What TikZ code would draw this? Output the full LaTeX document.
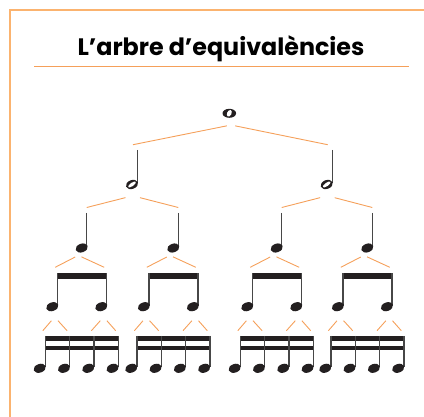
\documentclass[tikz,border=0pt]{standalone}
\usepackage{fontspec}
\setmainfont{Poppins}
\definecolor{frameorange}{HTML}{FBB36F}
\definecolor{branchorange}{HTML}{F5A05A}
\definecolor{noteblack}{HTML}{231F20}

\begin{document}
\begin{tikzpicture}[x=1pt,y=-1pt,
    branch/.style={branchorange,line width=0.9pt},
    stem/.style={black!72,line width=1.5pt},
    beam/.style={fill=noteblack}]
\useasboundingbox (0,0) rectangle (424,417);

% frame and title
\draw[frameorange,line width=2pt] (10,417) -- (10,10) -- (424,10);
\node[font=\bfseries\fontsize{23.8}{25}\selectfont,anchor=base,inner sep=0pt] (title) at (221,55.5) {L’arbre d’equivalències};
\draw[branchorange,line width=1.3pt] (34,66.7) -- (409.3,66.7);

% whole note
\coordinate (w) at (229.3,113.3);
\coordinate (w-foot) at (231,125);
\fill[noteblack] (w) ellipse [x radius=6.8pt,y radius=4.5pt];
\fill[white,rotate around={-25:(w)}] (w) ellipse [x radius=2.2pt,y radius=3.5pt];

% half notes
\foreach \h [count=\i] in {132,326.7} {
  \coordinate (h\i) at (\h,184.5);
  \coordinate (h\i-top) at (\h+1,144.7);
  \coordinate (h\i-foot) at (\h+0.7,195.8);
  \draw[stem] (\h+5.7,150) -- (\h+5.7,183);
  \fill[noteblack,rotate around={20:(h\i)}] (h\i) ellipse [x radius=6.3pt,y radius=4.4pt];
  \fill[white,rotate around={35:(h\i)}] (h\i) ellipse [x radius=4.6pt,y radius=1.7pt];
  \draw[branch,shorten <=4.3pt] (w-foot) -- (h\i-top);
}

% quarter notes, with their eighths and sixteenths
\foreach \q [count=\i] in {81.7,173.3,276.7,367.3} {
  \coordinate (q\i) at (\q,248);
  \coordinate (q\i-top) at (\q+5,207.5);
  \coordinate (q\i-foot) at (\q-3.4,255.4);
  \draw[stem] (\q+5,213) -- (\q+5,247);
  \fill[noteblack,rotate around={20:(q\i)}] (q\i) ellipse [x radius=6.3pt,y radius=4.3pt];
  % eighths
  \fill[beam] (\q-25,273.3) rectangle (\q+25.6,279.3);
  \foreach \j in {1,2} {
    \coordinate (e\i-\j) at (\q-29.4+49*\j-49,306.7);
    \coordinate (e\i-\j-top) at (\q-26.5+49*\j-49,267.3);
    \coordinate (e\i-\j-foot) at (\q-27.1+49*\j-49,317);
    \draw[stem] (\q-24.2+49*\j-49,273.3) -- (\q-24.2+49*\j-49,305.7);
    \fill[noteblack,rotate around={20:(e\i-\j)}] (e\i-\j) ellipse [x radius=6.3pt,y radius=4.3pt];
    \draw[branch,shorten <=3.5pt] (q\i-foot) -- (e\i-\j-top);
  }
  % sixteenths
  \fill[beam] (\q-37.1,336) rectangle (\q+37.4,341.5);
  \fill[beam] (\q-37.1,346.5) rectangle (\q+37.4,350.3);
  \foreach \k in {1,...,4} {
    \coordinate (s\i-\k) at (\q-42+24.3*\k-24.3,368.3);
    \coordinate (s\i-\k-top) at (\q-38.9+24.3*\k-24.3,330.7);
    \draw[stem] (\q-36.3+24.3*\k-24.3,336) -- (\q-36.3+24.3*\k-24.3,367.3);
    \fill[noteblack,rotate around={20:(s\i-\k)}] (s\i-\k) ellipse [x radius=6.3pt,y radius=4.3pt];
  }
  \foreach \j/\a/\b in {1/1/2,2/3/4} {
    \draw[branch,shorten <=5pt] (e\i-\j-foot) -- (s\i-\a-top);
    \draw[branch,shorten <=5pt] (e\i-\j-foot) -- (s\i-\b-top);
  }
}

% half to quarter branches
\foreach \i/\a/\b in {1/1/2,2/3/4} {
  \draw[branch,shorten <=7.5pt] (h\i-foot) -- (q\a-top);
  \draw[branch,shorten <=7.5pt] (h\i-foot) -- (q\b-top);
}
\end{tikzpicture}
\end{document}
